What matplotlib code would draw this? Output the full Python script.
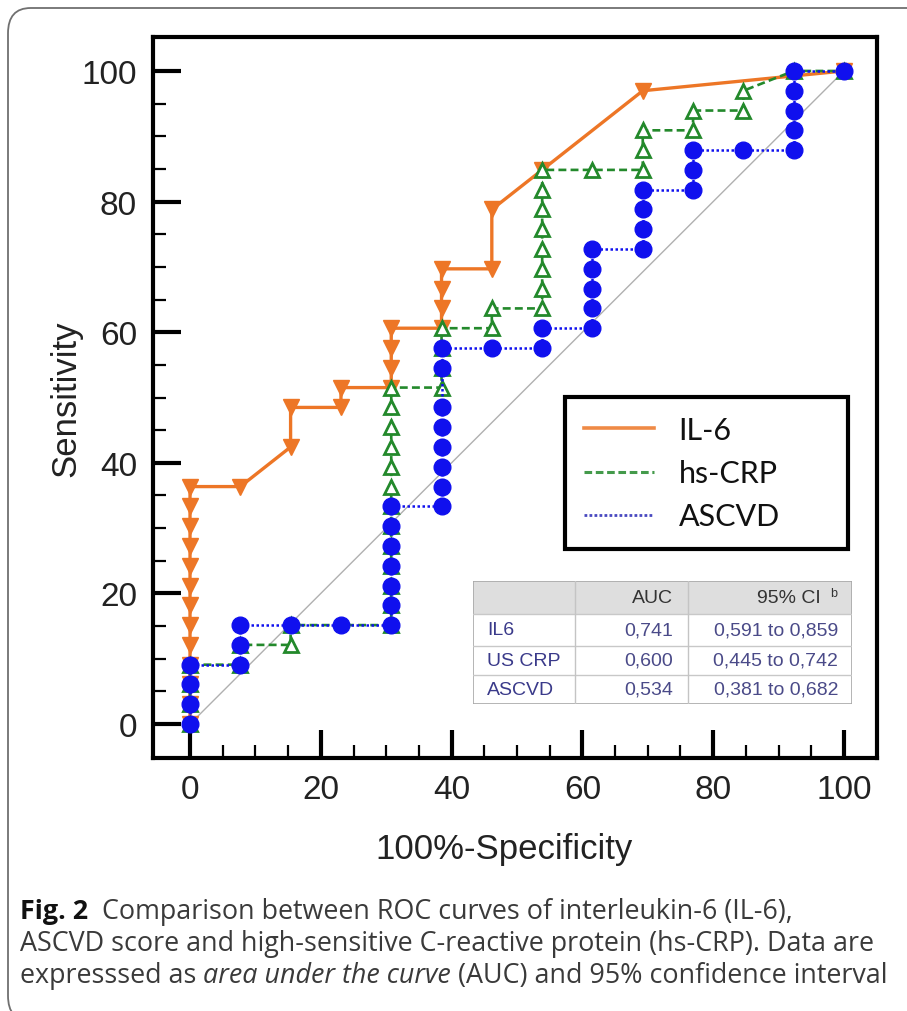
import matplotlib
matplotlib.use('Agg')
import matplotlib.pyplot as plt
from matplotlib.lines import Line2D
from matplotlib.patches import Rectangle, FancyBboxPatch
from matplotlib.font_manager import FontProperties
from matplotlib.ticker import FixedLocator

# ---------------- data ----------------
IL6_X = [0, 0, 0, 0, 0, 0, 0, 0, 0, 0, 0, 0, 0, 7.69, 15.38, 15.38, 23.08, 23.08,
         30.77, 30.77, 30.77, 30.77, 38.46, 38.46, 38.46, 38.46, 46.15, 46.15,
         53.85, 69.23, 100]
IL6_Y = [0, 3.03, 6.06, 9.09, 12.12, 15.15, 18.18, 21.21, 24.24, 27.27, 30.30, 33.33,
         36.36, 36.36, 42.42, 48.48, 48.48, 51.52, 51.52, 54.55, 57.58, 60.61,
         60.61, 63.64, 66.67, 69.70, 69.70, 78.79, 84.85, 96.97, 100]

CRP_X = [0, 0, 0, 0, 7.69, 7.69, 15.38, 15.38,
         30.77, 30.77, 30.77, 30.77, 30.77, 30.77, 30.77, 30.77, 30.77, 30.77, 30.77, 30.77, 30.77,
         38.46, 38.46, 38.46, 38.46, 46.15, 46.15,
         53.85, 53.85, 53.85, 53.85, 53.85, 53.85, 53.85, 53.85,
         61.54, 69.23, 69.23, 69.23, 76.92, 76.92, 84.62, 84.62, 92.31, 100]
CRP_Y = [0, 3.03, 6.06, 9.09, 9.09, 12.12, 12.12, 15.15,
         15.15, 18.18, 21.21, 24.24, 27.27, 30.30, 33.33, 36.36, 39.39, 42.42, 45.45, 48.48, 51.52,
         51.52, 54.55, 57.58, 60.61, 60.61, 63.64,
         63.64, 66.67, 69.70, 72.73, 75.76, 78.79, 81.82, 84.85,
         84.85, 84.85, 87.88, 90.91, 90.91, 93.94, 93.94, 96.97, 100, 100]

ASC_X = [0, 0, 0, 0, 7.69, 7.69, 7.69, 15.38, 23.08,
         30.77, 30.77, 30.77, 30.77, 30.77, 30.77, 30.77,
         38.46, 38.46, 38.46, 38.46, 38.46, 38.46, 38.46, 38.46,
         46.15, 53.85, 53.85, 61.54, 61.54, 61.54, 61.54, 61.54,
         69.23, 69.23, 69.23, 69.23, 76.92, 76.92, 76.92, 84.62,
         92.31, 92.31, 92.31, 92.31, 92.31, 100]
ASC_Y = [0, 3.03, 6.06, 9.09, 9.09, 12.12, 15.15, 15.15, 15.15,
         15.15, 18.18, 21.21, 24.24, 27.27, 30.30, 33.33,
         33.33, 36.36, 39.39, 42.42, 45.45, 48.48, 54.55, 57.58,
         57.58, 57.58, 60.61, 60.61, 63.64, 66.67, 69.70, 72.73,
         72.73, 75.76, 78.79, 81.82, 81.82, 84.85, 87.88, 87.88,
         87.88, 90.91, 93.94, 96.97, 100, 100]

LEGEND_LABELS = ["IL-6", "hs-CRP", "ASCVD"]
X_TICKS = [0, 20, 40, 60, 80, 100]
Y_TICKS = [0, 20, 40, 60, 80, 100]
MINOR_TICKS = [5, 10, 15, 25, 30, 35, 45, 50, 55, 65, 70, 75, 85, 90, 95]

TABLE_HEADER = ["", "AUC", "95% CI"]
TABLE_ROWS = ["IL6", "US CRP", "ASCVD"]
TABLE_AUC = ["0,741", "0,600", "0,534"]
TABLE_CI = ["0,591 to 0,859", "0,445 to 0,742", "0,381 to 0,682"]

CAPTION_BOLD = "Fig. 2"
CAPTION_L1 = "  Comparison between ROC curves of interleukin-6 (IL-6),"
CAPTION_L2 = "ASCVD score and high-sensitive C-reactive protein (hs-CRP). Data are"
CAPTION_L3A = "expresssed as"
CAPTION_L3B = " area under the curve"
CAPTION_L3C = " (AUC) and 95% confidence interval"

# ---------------- styling ----------------
ORANGE = '#ED7626'
GREEN = '#23892B'
BLUE = '#1010EE'
LEG_BLUE = '#4848C0'
W, H = 907, 1012
SANS = ['Liberation Sans', 'DejaVu Sans']

fig = plt.figure(figsize=(W / 100, H / 100), dpi=100)
fig.patch.set_facecolor('white')

# outer rounded frame of the figure panel (bottom edge lies just below the image)
frame = FancyBboxPatch((8 / W, 1 - 1022 / H), (W + 30) / W, (1022 - 9) / H,
                       boxstyle="round,pad=0,rounding_size=0.025",
                       transform=fig.transFigure, facecolor='none',
                       edgecolor='#707070', lw=1.3, zorder=0, clip_on=False)
fig.patches.append(frame)

ax = fig.add_axes([153 / W, 1 - 759 / H, 724 / W, 721 / H])
ax.set_xlim(-5.66, 105.05)
ax.set_ylim(-5.2, 105.2)

ax.plot([0, 100], [0, 100], color='#b0b0b0', lw=1.0, zorder=1)
ax.plot(IL6_X, IL6_Y, color=ORANGE, lw=2.4, marker='v', ms=11,
        mfc=ORANGE, mec=ORANGE, zorder=2)
ax.plot(CRP_X, CRP_Y, color=GREEN, lw=1.9, ls=(0, (3, 1.6)), marker='^', ms=10,
        mfc='white', mec=GREEN, mew=2, zorder=3)
ax.plot(ASC_X, ASC_Y, color=BLUE, lw=1.8, ls=(0, (1, 1)), marker='o', ms=12,
        mfc=BLUE, mec=BLUE, zorder=4)

for sp in ax.spines.values():
    sp.set_linewidth(3)
    sp.set_color('black')

ax.set_xticks(X_TICKS)
ax.set_yticks(Y_TICKS)
ax.xaxis.set_minor_locator(FixedLocator(MINOR_TICKS))
ax.yaxis.set_minor_locator(FixedLocator(MINOR_TICKS))
ax.tick_params(which='major', direction='in', length=20, width=3, pad=11.5,
               labelsize=24, labelcolor='#222222')
ax.tick_params(which='minor', direction='in', length=9.5, width=1.6)
for lab in ax.get_xticklabels() + ax.get_yticklabels():
    lab.set_family(SANS)

ax.set_xlabel("100%-Specificity", fontsize=25, family=SANS, color='#222222')
ax.set_ylabel("Sensitivity", fontsize=25, family=SANS, color='#222222')
ax.xaxis.set_label_coords((504 - 153) / 724, -(833 - 759) / 721)
ax.yaxis.set_label_coords((82 - 153) / 724, 0.5)

# legend
handles = [Line2D([], [], color=ORANGE, lw=2.6, alpha=0.85),
           Line2D([], [], color=GREEN, lw=2.2, ls=(0, (2.5, 1.2)), alpha=0.85),
           Line2D([], [], color=LEG_BLUE, lw=2.0, ls=(0, (1, 0.8)))]
leg = ax.legend(handles, LEGEND_LABELS, loc='upper left',
                bbox_to_anchor=(565 / W, 1 - 550 / H, 283 / W, 152 / H),
                bbox_transform=fig.transFigure, mode='expand',
                prop=FontProperties(family=['Lato', 'DejaVu Sans'], size=22),
                frameon=True, fancybox=False, framealpha=1, edgecolor='black',
                handlelength=2.3, handletextpad=0.8, borderpad=0.62,
                labelspacing=0.5, borderaxespad=0)
leg.get_frame().set_linewidth(3)
for t in leg.get_texts():
    t.set_color('#111111')

# ---------------- table inset ----------------
tax = fig.add_axes([473 / W, 1 - 705 / H, 379 / W, 123 / H])
tax.set_xlim(473, 852)
tax.set_ylim(705, 582)
tax.axis('off')
rows_y = [582, 615, 647, 676, 705]
cols_x = [473, 575, 688, 852]
tax.add_patch(Rectangle((473, 582), 379, 33, facecolor='#dedede', edgecolor='none'))
tax.add_patch(Rectangle((473, 615), 379, 90, facecolor='white', edgecolor='none'))
for yy in rows_y[1:-1]:
    tax.plot([473, 852], [yy, yy], color='#c8c8c8', lw=1.0)
for xx in cols_x[1:-1]:
    tax.plot([xx, xx], [582, 705], color='#c4c4c4', lw=1.0)
tax.add_patch(Rectangle((473, 582), 379, 123, facecolor='none', edgecolor='#a8a8a8', lw=1.2))

TFS = 14
tax.text(673, 599, TABLE_HEADER[1], ha='right', va='center', fontsize=TFS, family=SANS, color='#333333')
tax.text(821, 599, TABLE_HEADER[2], ha='right', va='center', fontsize=TFS, family=SANS, color='#333333')
tax.text(830, 594, "b", ha='left', va='center', fontsize=9, family=SANS, color='#333333')
row_centers = [631, 661.5, 690.5]
for name, auc, ci, yc in zip(TABLE_ROWS, TABLE_AUC, TABLE_CI, row_centers):
    tax.text(487, yc, name, ha='left', va='center', fontsize=TFS, family=SANS, color='#3a3a8a')
    tax.text(673, yc, auc, ha='right', va='center', fontsize=TFS, family=SANS, color='#4a4a88')
    tax.text(838, yc, ci, ha='right', va='center', fontsize=TFS, family=SANS, color='#4a4a88')

# ---------------- caption ----------------
CAP_FAM = ['Open Sans', 'DejaVu Sans']
renderer = fig.canvas.get_renderer()


def line_width(pieces, size):
    total = 0
    tmp = []
    for txt, kw in pieces:
        t = fig.text(0, 0, txt, fontsize=size, family=CAP_FAM, **kw)
        total += t.get_window_extent(renderer).width
        tmp.append(t)
    for t in tmp:
        t.remove()
    return total


def draw_line(pieces, x0, yb, size):
    x = x0
    for txt, kw in pieces:
        t = fig.text(x / W, 1 - yb / H, txt, fontsize=size, family=CAP_FAM,
                     ha='left', va='baseline', **kw)
        x += t.get_window_extent(renderer).width


reg = dict(color='#3a3a3a')
line1 = [(CAPTION_BOLD, dict(color='#111111', weight='bold')), (CAPTION_L1, reg)]
line2 = [(CAPTION_L2, reg)]
line3 = [(CAPTION_L3A, reg), (CAPTION_L3B, dict(color='#3a3a3a', style='italic')),
         (CAPTION_L3C, reg)]
w3 = line_width(line3, 18)
cap_size = 18 * (887 - 20) / w3
draw_line(line1, 20, 919, cap_size)
draw_line(line2, 20, 951, cap_size)
draw_line(line3, 20, 983, cap_size)

fig.savefig('out.png', dpi=100)
